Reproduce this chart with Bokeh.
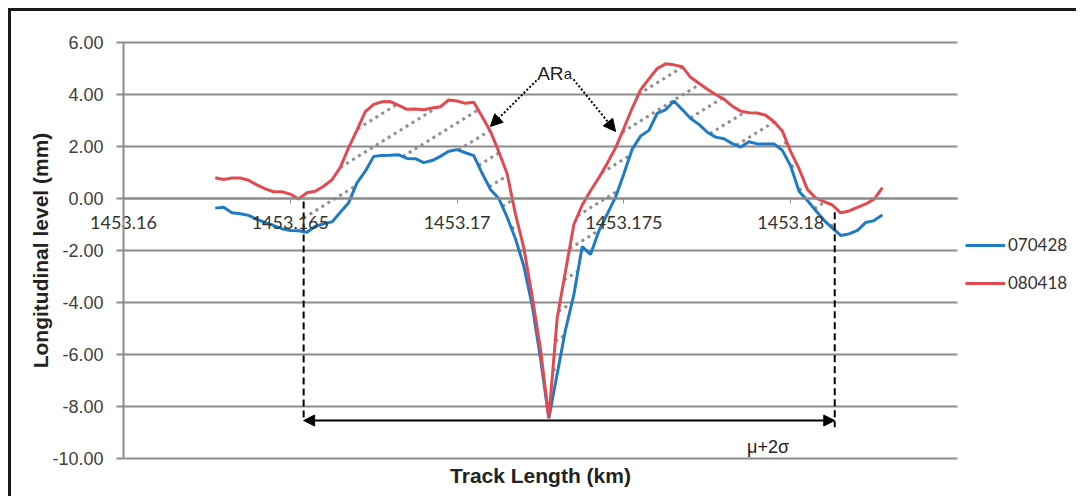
import numpy as np
from bokeh.plotting import figure
from bokeh.models import (Range1d, FixedTicker, LinearAxis, Legend, LegendItem, Arrow,
                          NormalHead, Label, PrintfTickFormatter, NumeralTickFormatter)
from bokeh.embed import file_html
from bokeh.resources import INLINE

# ---------------- data ----------------
x_km = [1453.16275, 1453.16300, 1453.16325, 1453.16350, 1453.16375, 1453.16400, 1453.16425,
        1453.16450, 1453.16475, 1453.16500, 1453.16525, 1453.16550, 1453.16575, 1453.16600,
        1453.16625, 1453.16650, 1453.16675, 1453.16700, 1453.16725, 1453.16750, 1453.16775,
        1453.16800, 1453.16825, 1453.16850, 1453.16875, 1453.16900, 1453.16925, 1453.16950,
        1453.16975, 1453.17000, 1453.17025, 1453.17050, 1453.17075, 1453.17100, 1453.17125,
        1453.17150, 1453.17175, 1453.17200, 1453.17225, 1453.17250, 1453.17275, 1453.17300,
        1453.17325, 1453.17350, 1453.17375, 1453.17400, 1453.17425, 1453.17450, 1453.17475,
        1453.17500, 1453.17525, 1453.17550, 1453.17575, 1453.17600, 1453.17625, 1453.17650,
        1453.17675, 1453.17700, 1453.17725, 1453.17750, 1453.17775, 1453.17800, 1453.17825,
        1453.17850, 1453.17875, 1453.17900, 1453.17925, 1453.17950, 1453.17975, 1453.18000,
        1453.18025, 1453.18050, 1453.18075, 1453.18100, 1453.18125, 1453.18150, 1453.18175,
        1453.18200, 1453.18225, 1453.18250, 1453.18275]

s070428 = [-0.37, -0.34, -0.55, -0.59, -0.65, -0.80, -0.93, -1.04, -1.16, -1.23,
           -1.24, -1.30, -1.07, -0.97, -0.90, -0.53, -0.16, 0.60, 1.05, 1.62,
           1.65, 1.66, 1.68, 1.54, 1.53, 1.38, 1.46, 1.62, 1.82, 1.88,
           1.76, 1.65, 0.97, 0.35, 0.00, -0.72, -1.55, -2.60, -4.10, -6.15,
           -8.45, -6.75, -5.05, -3.70, -1.85, -2.15, -1.25, -0.60, 0.05, 0.95,
           1.90, 2.40, 2.62, 3.28, 3.41, 3.75, 3.42, 3.08, 2.85, 2.55,
           2.36, 2.30, 2.11, 1.98, 2.18, 2.10, 2.10, 2.10, 1.85, 1.25,
           0.28, -0.08, -0.46, -0.84, -1.14, -1.42, -1.36, -1.23, -0.92, -0.85,
           -0.63]

s080418 = [0.80, 0.73, 0.79, 0.79, 0.70, 0.52, 0.37, 0.26, 0.26, 0.17,
           -0.02, 0.22, 0.28, 0.47, 0.72, 1.20, 1.96, 2.63, 3.34, 3.62,
           3.72, 3.73, 3.58, 3.43, 3.44, 3.41, 3.48, 3.53, 3.79, 3.75,
           3.66, 3.70, 3.15, 2.58, 1.80, 0.95, -0.60, -1.90, -3.75, -5.80,
           -8.45, -4.60, -2.80, -1.00, -0.25, 0.30, 0.80, 1.35, 1.95, 2.70,
           3.48, 4.18, 4.60, 5.00, 5.18, 5.14, 5.07, 4.66, 4.43, 4.20,
           4.00, 3.82, 3.55, 3.36, 3.30, 3.29, 3.20, 2.95, 2.60, 1.80,
           1.15, 0.35, 0.02, -0.12, -0.25, -0.55, -0.48, -0.34, -0.21, -0.03,
           0.42]

series_names = ["070428", "080418"]
x_ticks = [1453.16, 1453.165, 1453.17, 1453.175, 1453.18]
y_ticks = [-10, -8, -6, -4, -2, 0, 2, 4, 6]
x_axis_bounds = (1453.16, 1453.185)
y_axis_bounds = (-10, 6)

# annotation anchors (km, mm)
limit_left = 1453.1654
limit_right = 1453.18132

BLUE = "#1f7bc4"
RED = "#e34a4f"
GRID = "#8c8c8c"
INK = "#222222"

W, H = 1068, 488
p = figure(width=W, height=H, min_border=0,
           x_range=Range1d(1453.156643, 1453.188657), y_range=Range1d(-11.5769, 7.19231),
           output_backend="svg", toolbar_location=None)
p.margin = (8, 0, 0, 8)
p.styles = {"border-top": "3px solid #1a1a1a", "border-left": "3px solid #1a1a1a"}
p.outline_line_color = None
p.background_fill_color = "white"
p.border_fill_color = "white"
p.grid.visible = False

# horizontal grid lines, limited to the plotting area
p.segment(x0=[x_axis_bounds[0]] * len(y_ticks), y0=y_ticks,
          x1=[x_axis_bounds[1]] * len(y_ticks), y1=y_ticks,
          line_color=GRID, line_width=2)

# y axis (at x = 1453.16)
ya = p.yaxis[0]
ya.fixed_location = x_axis_bounds[0]
ya.bounds = y_axis_bounds
ya.ticker = FixedTicker(ticks=y_ticks)
ya.formatter = PrintfTickFormatter(format="%.2f")
ya.axis_line_color = GRID
ya.axis_line_width = 2
ya.major_tick_line_color = GRID
ya.major_tick_line_width = 2
ya.major_tick_out = 7
ya.major_tick_in = 0
ya.minor_tick_line_color = None
ya.major_label_standoff = 13
ya.major_label_text_font = "Liberation Sans"
ya.major_label_text_font_size = "18px"
ya.major_label_text_color = "#404040"
ya.axis_label = "Longitudinal level (mm)"
ya.axis_label_text_font = "Liberation Sans"
ya.axis_label_text_font_style = "bold"
ya.axis_label_text_font_size = "21px"
ya.axis_label_text_color = INK
ya.axis_label_standoff = -3

# x axis crossing at y = 0
xa = p.xaxis[0]
xa.fixed_location = 0
xa.bounds = x_axis_bounds
xa.ticker = FixedTicker(ticks=x_ticks)
xa.formatter = NumeralTickFormatter(format="0.[000]")
xa.axis_line_color = GRID
xa.axis_line_width = 2
xa.major_tick_line_color = GRID
xa.major_tick_line_width = 1
xa.major_tick_out = 5
xa.major_tick_in = 0
xa.minor_tick_line_color = None
xa.major_label_standoff = 12
xa.major_label_text_font = "Lato"
xa.major_label_text_font_size = "18px"
xa.major_label_text_color = "#333333"

# x axis title under the bottom grid line
ta = LinearAxis(fixed_location=y_axis_bounds[0], bounds=x_axis_bounds,
                ticker=FixedTicker(ticks=[]), axis_label="Track Length (km)",
                axis_line_color=None, major_tick_line_color=None, minor_tick_line_color=None,
                major_tick_out=0, major_label_standoff=0, axis_label_standoff=5,
                axis_label_text_font="Liberation Sans", axis_label_text_font_style="bold",
                axis_label_text_font_size="21px", axis_label_text_color=INK)
p.add_layout(ta, "below")

# hatch lines (dotted diagonals between the two profiles, inside the limits)
xs_f = np.linspace(limit_left, limit_right, 4000)
r_f = np.interp(xs_f, x_km, s080418)
b_f = np.interp(xs_f, x_km, s070428)
slope = 795.0
gap = 0.00135
c0 = 1453.170396
hx, hy = [], []
for k in range(-20, 30):
    c = c0 + k * gap
    yl = slope * (xs_f - c)
    inside = (yl >= b_f) & (yl <= r_f)
    idx = np.flatnonzero(np.diff(np.concatenate([[0], inside.astype(int), [0]])))
    for a, b in zip(idx[::2], idx[1::2]):
        if b - a > 3:
            hx.append([xs_f[a], xs_f[b - 1]])
            hy.append([yl[a], yl[b - 1]])
p.multi_line(hx, hy, line_color="#8f8f8f", line_width=3, line_dash="3 4")

rb = p.line(x_km, s070428, line_color=BLUE, line_width=3)
rr = p.line(x_km, s080418, line_color=RED, line_width=3)

# limit lines
p.segment(x0=[limit_left, limit_right], y0=[-0.12, -0.53], x1=[limit_left, limit_right],
          y1=[-8.5, -8.8], line_color="black", line_width=2, line_dash="7 4")
p.add_layout(Arrow(start=NormalHead(size=11, fill_color="black", line_color="black"),
                   end=NormalHead(size=11, fill_color="black", line_color="black"),
                   x_start=limit_left, y_start=-8.54, x_end=limit_right, y_end=-8.54,
                   line_color="black", line_width=2))

# ARa arrows
for xs0, ys0, xe, ye in [(1453.17238, 4.54, 1453.17100, 2.77),
                         (1453.17349, 4.58, 1453.17475, 2.58)]:
    p.add_layout(Arrow(end=NormalHead(size=12, fill_color="black", line_color="black"),
                       x_start=xs0, y_start=ys0, x_end=xe, y_end=ye,
                       line_color="black", line_width=2, line_dash="2 2"))

p.add_layout(Label(x=1453.172401, y=4.80, text="AR", text_font="Liberation Sans",
                   text_font_size="19px", text_color=INK, text_baseline="alphabetic"))
p.add_layout(Label(x=1453.173198, y=4.80, text="a", text_font="Liberation Sans",
                   text_font_size="15px", text_color=INK, text_baseline="alphabetic"))
p.add_layout(Label(x=1453.17932, y=-9.54, text="μ+2σ", text_font="Liberation Sans",
                   text_font_size="18px", text_color=INK, text_align="center",
                   text_baseline="middle"))

legend = Legend(items=[LegendItem(label=series_names[0], renderers=[rb]),
                       LegendItem(label=series_names[1], renderers=[rr])],
                location=(954, 206), orientation="vertical", padding=0, margin=0,
                spacing=17, glyph_width=40, glyph_height=20, label_standoff=3,
                border_line_color=None, background_fill_alpha=0,
                label_text_font="Lato", label_text_font_size="17px",
                label_text_color="#333333")
p.add_layout(legend)

open("out.html", "w").write(file_html(p, INLINE))
